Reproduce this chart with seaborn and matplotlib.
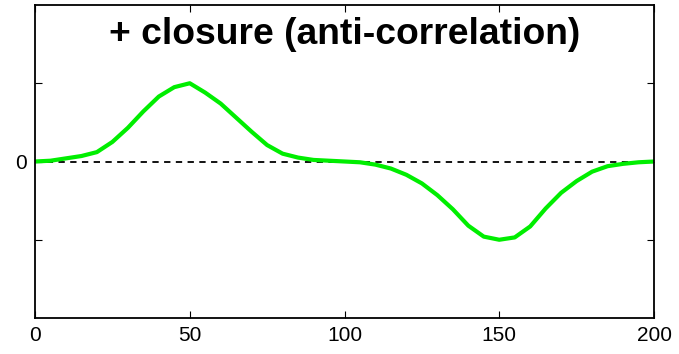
import numpy as np
import pandas as pd
import matplotlib
matplotlib.use("Agg")
import matplotlib.pyplot as plt
import seaborn as sns

sns.set_theme(style="white")
plt.rcParams['font.family'] = ['Liberation Sans', 'DejaVu Sans']

x_vals = [0, 5, 10, 15, 20, 25, 30, 35, 40, 45, 50, 55, 60, 65, 70, 75, 80, 85, 90, 95,
          100, 105, 110, 115, 120, 125, 130, 135, 140, 145, 150, 155, 160, 165, 170, 175,
          180, 185, 190, 195, 200]
y_vals = [0.0, 0.01, 0.04, 0.07, 0.12, 0.25, 0.43, 0.64, 0.83, 0.95, 1.0, 0.88, 0.74,
          0.56, 0.38, 0.21, 0.10, 0.05, 0.02, 0.01,
          0.0, -0.01, -0.04, -0.09, -0.17, -0.28, -0.43, -0.61, -0.82, -0.96, -1.0, -0.97,
          -0.83, -0.60, -0.40, -0.25, -0.13, -0.06, -0.03, -0.01, 0.0]
title_text = "+ closure (anti-correlation)"
x_ticks = [0, 50, 100, 150, 200]
y_ticks = [-1, 0, 1]
y_ticklabels = ["", "0", ""]

df = pd.DataFrame({"x": x_vals, "y": y_vals})

fig = plt.figure(figsize=(6.79, 3.54), dpi=100)
ax = fig.add_axes([35/679, 1 - 318/354, (654-35)/679, (318-5)/354])

ax.axhline(0, color="black", linestyle=(0, (3.5, 3)), linewidth=1.3, zorder=1)
sns.lineplot(data=df, x="x", y="y", ax=ax, color="#00ee00", linewidth=3.0, zorder=2)

ax.set_xlim(0, 200)
ax.set_ylim(-2, 2)
ax.set_xticks(x_ticks)
ax.set_xticklabels([str(t) for t in x_ticks], fontsize=15)
ax.set_yticks(y_ticks)
ax.set_yticklabels(y_ticklabels, fontsize=15)
ax.set_xlabel("")
ax.set_ylabel("")
ax.tick_params(direction="in", length=5, width=0.8, top=True, right=True,
               bottom=True, left=True, colors="black", pad=6)
for s in ax.spines.values():
    s.set_color("black")
    s.set_linewidth(1.3)
    s.set_visible(True)

ax.text(0.5, 0.905, title_text, transform=ax.transAxes, ha="center", va="center",
        fontsize=26.8, fontweight="bold", color="black")

fig.savefig("out.png", dpi=100)
